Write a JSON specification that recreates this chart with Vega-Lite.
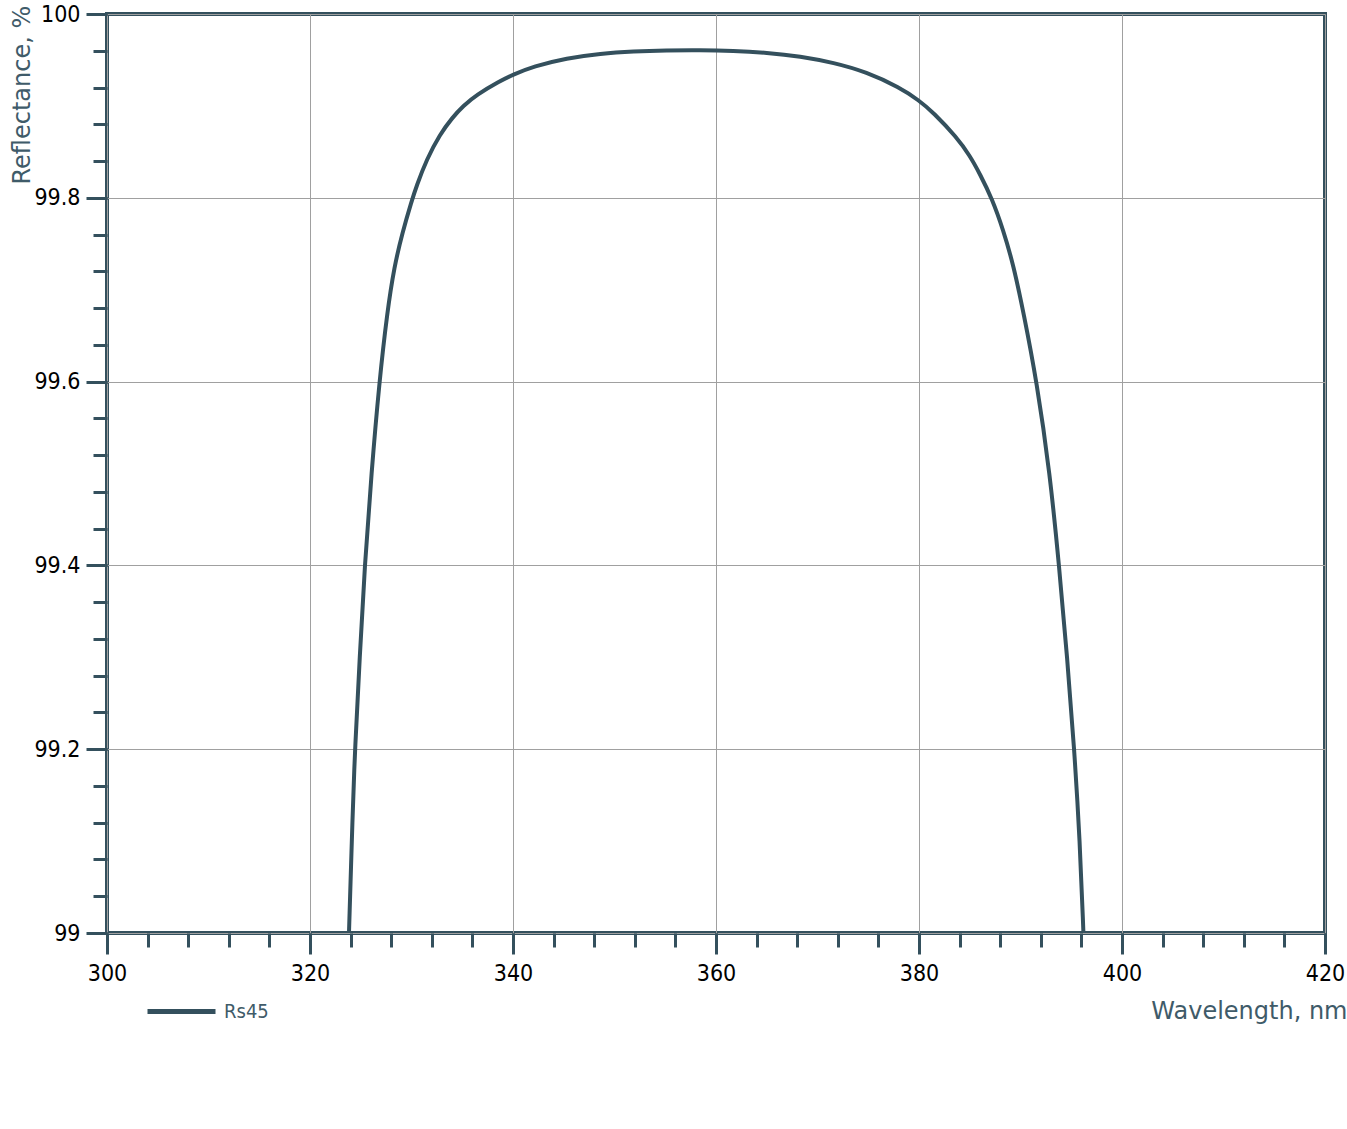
{
  "$schema": "https://vega.github.io/schema/vega-lite/v6.json",
  "width": 1218,
  "height": 919,
  "autosize": {"type": "none"},
  "padding": {"left": 107, "top": 14, "right": 22, "bottom": 182},
  "background": "white",
  "config": {
    "view": {"stroke": "#34505d", "strokeWidth": 4},
    "axis": {"domain": false, "tickColor": "#34505d", "tickWidth": 3, "gridColor": "#a0a0a0", "gridWidth": 1, "gridOpacity": 1, "labelFlush": false}
  },
  "data": {
    "values": [
      {"wl": 323.84, "R": 99.0, "s": "Rs45"},
      {"wl": 324.2, "R": 99.13, "s": "Rs45"},
      {"wl": 324.43, "R": 99.2, "s": "Rs45"},
      {"wl": 324.9, "R": 99.3, "s": "Rs45"},
      {"wl": 325.39, "R": 99.4, "s": "Rs45"},
      {"wl": 326.05, "R": 99.5, "s": "Rs45"},
      {"wl": 326.83, "R": 99.6, "s": "Rs45"},
      {"wl": 327.6, "R": 99.675, "s": "Rs45"},
      {"wl": 328.3, "R": 99.725, "s": "Rs45"},
      {"wl": 329.1, "R": 99.762, "s": "Rs45"},
      {"wl": 330.0, "R": 99.796, "s": "Rs45"},
      {"wl": 330.5, "R": 99.813, "s": "Rs45"},
      {"wl": 331.5, "R": 99.842, "s": "Rs45"},
      {"wl": 332.8, "R": 99.869, "s": "Rs45"},
      {"wl": 334.0, "R": 99.887, "s": "Rs45"},
      {"wl": 335.1, "R": 99.9, "s": "Rs45"},
      {"wl": 336.4, "R": 99.912, "s": "Rs45"},
      {"wl": 338.7, "R": 99.927, "s": "Rs45"},
      {"wl": 340.0, "R": 99.934, "s": "Rs45"},
      {"wl": 342.0, "R": 99.943, "s": "Rs45"},
      {"wl": 345.3, "R": 99.952, "s": "Rs45"},
      {"wl": 348.6, "R": 99.957, "s": "Rs45"},
      {"wl": 351.9, "R": 99.9594, "s": "Rs45"},
      {"wl": 355.1, "R": 99.9605, "s": "Rs45"},
      {"wl": 358.4, "R": 99.9608, "s": "Rs45"},
      {"wl": 361.7, "R": 99.96, "s": "Rs45"},
      {"wl": 365.0, "R": 99.958, "s": "Rs45"},
      {"wl": 368.3, "R": 99.954, "s": "Rs45"},
      {"wl": 371.6, "R": 99.947, "s": "Rs45"},
      {"wl": 374.8, "R": 99.937, "s": "Rs45"},
      {"wl": 378.1, "R": 99.92, "s": "Rs45"},
      {"wl": 380.0, "R": 99.906, "s": "Rs45"},
      {"wl": 381.4, "R": 99.893, "s": "Rs45"},
      {"wl": 383.7, "R": 99.866, "s": "Rs45"},
      {"wl": 385.0, "R": 99.846, "s": "Rs45"},
      {"wl": 386.0, "R": 99.826, "s": "Rs45"},
      {"wl": 387.2, "R": 99.799, "s": "Rs45"},
      {"wl": 388.3, "R": 99.765, "s": "Rs45"},
      {"wl": 389.3, "R": 99.727, "s": "Rs45"},
      {"wl": 390.3, "R": 99.675, "s": "Rs45"},
      {"wl": 391.6, "R": 99.6, "s": "Rs45"},
      {"wl": 392.9, "R": 99.5, "s": "Rs45"},
      {"wl": 393.8, "R": 99.4, "s": "Rs45"},
      {"wl": 394.6, "R": 99.3, "s": "Rs45"},
      {"wl": 395.3, "R": 99.2, "s": "Rs45"},
      {"wl": 395.85, "R": 99.1, "s": "Rs45"},
      {"wl": 396.2, "R": 99.0, "s": "Rs45"}
    ]
  },
  "layer": [
    {
      "mark": {"type": "line", "opacity": 0},
      "encoding": {
        "x": {"field": "wl", "type": "quantitative", "scale": {"domain": [300, 420], "nice": false, "zero": false},
          "axis": {"orient": "bottom", "values": [300,304,308,312,316,320,324,328,332,336,340,344,348,352,356,360,364,368,372,376,380,384,388,392,396,400,404,408,412,416,420],
            "tickSize": 14, "labels": false, "grid": false, "title": null}},
        "y": {"field": "R", "type": "quantitative", "scale": {"domain": [99, 100], "nice": false, "zero": false},
          "axis": {"orient": "left", "values": [99,99.04,99.08,99.12,99.16,99.2,99.24,99.28,99.32,99.36,99.4,99.44,99.48,99.52,99.56,99.6,99.64,99.68,99.72,99.76,99.8,99.84,99.88,99.92,99.96,100],
            "tickSize": 14, "labels": false, "grid": false, "title": null}}
      }
    },
    {
      "mark": {"type": "line", "strokeWidth": 4, "interpolate": "basis", "clip": true},
      "encoding": {
        "x": {"field": "wl", "type": "quantitative", "scale": {"domain": [300, 420], "nice": false, "zero": false},
          "axis": {"orient": "bottom", "values": [300, 320, 340, 360, 380, 400, 420], "tickSize": 21, "grid": true,
            "labelFont": "DejaVu Sans Condensed", "labelFontSize": 23, "labelColor": "#000000", "labelPadding": 8,
            "title": "Wavelength, nm", "titleFont": "DejaVu Sans", "titleFontSize": 24, "titleFontWeight": "normal", "titleColor": "#3f5b69",
            "titleAlign": "right", "titleAnchor": null, "titleX": 1240, "titleY": 85, "titleBaseline": "alphabetic"}},
        "y": {"field": "R", "type": "quantitative", "scale": {"domain": [99, 100], "nice": false, "zero": false},
          "axis": {"orient": "left", "values": [99, 99.2, 99.4, 99.6, 99.8, 100], "tickSize": 21, "grid": true,
            "labelExpr": "format(datum.value, '~g')",
            "labelFont": "DejaVu Sans Condensed", "labelFontSize": 23, "labelColor": "#000000", "labelPadding": 6,
            "title": "Reflectance, %", "titleFont": "DejaVu Sans", "titleFontSize": 24, "titleFontWeight": "normal", "titleColor": "#3f5b69",
            "titleAngle": -90, "titleAlign": "left", "titleAnchor": null, "titleX": -78, "titleY": 170, "titleBaseline": "alphabetic"}},
        "color": {"field": "s", "type": "nominal", "scale": {"range": ["#34505d"]},
          "legend": {"orient": "none", "legendX": 38, "legendY": 961, "title": null, "padding": 0,
            "symbolType": "stroke", "symbolSize": 4624, "symbolStrokeWidth": 5, "symbolStrokeColor": "#34505d",
            "labelFont": "DejaVu Sans Condensed", "labelFontSize": 20, "labelColor": "#3f5b69", "labelOffset": 6}}
      }
    }
  ],
  "resolve": {"axis": {"x": "independent", "y": "independent"}}
}
